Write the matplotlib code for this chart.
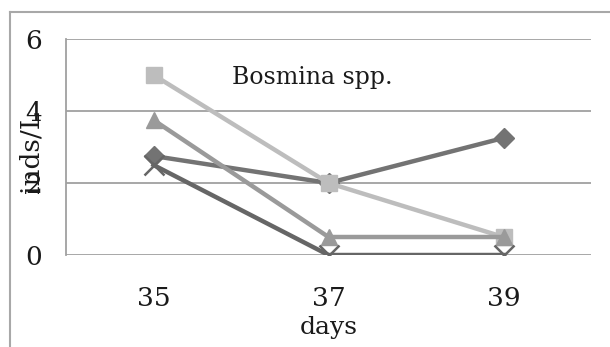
import numpy as np
import matplotlib.pyplot as plt

# Bosmina spp. densities (inds/L) over days
days = ['35', '37', '39']
serie_losange = [2.75, 2.0, 3.25]
serie_carre = [5.0, 2.0, 0.5]
serie_triangle = [3.75, 0.5, 0.5]
serie_croix = [2.5, 0.0, 0.0]
yticks = [0, 2, 4, 6]

W, H = 610, 347
fig = plt.figure(figsize=(W / 100, H / 100), dpi=100)
plt.rcParams['font.family'] = ['DejaVu Serif']

# cadre extérieur (haut et gauche seulement)
fig.add_artist(plt.Line2D([10 / W, 1], [1 - 12 / H, 1 - 12 / H], color='#a8a8a8', lw=1.5))
fig.add_artist(plt.Line2D([10 / W, 10 / W], [0, 1 - 12 / H], color='#a8a8a8', lw=1.5))

ax = fig.add_axes([66 / W, (H - 255) / H, (591 - 66) / W, (255 - 39) / H])
x = np.arange(len(days))

ax.plot(x, serie_losange, color='#737373', lw=3.2, marker='D', ms=10, zorder=3)
ax.plot(x, serie_carre, color='#bdbdbd', lw=3.2, marker='s', ms=12, zorder=3)
ax.plot(x, serie_triangle, color='#9a9a9a', lw=3.2, marker='^', ms=12, zorder=3)
ax.plot(x, serie_croix, color='#666666', lw=3.2, marker='x', ms=14, mew=1.8, zorder=3)

ax.set_xlim(-0.5, 2.5)
ax.set_ylim(0, 6)
ax.set_yticks(yticks)
ax.set_xticks(x, days)
ax.grid(axis='y', color='#a0a0a0', lw=1.3)
ax.set_axisbelow(True)
for s in ['top', 'right', 'bottom']:
    ax.spines[s].set_visible(False)
ax.spines['left'].set_color('#a0a0a0')
ax.spines['left'].set_linewidth(1.3)
ax.tick_params(length=0, labelsize=19, colors='#1a1a1a')
ax.tick_params(axis='y', pad=17)
ax.tick_params(axis='x', pad=22)

ax.set_xlabel('days', fontsize=18, color='#1a1a1a', labelpad=4)
ax.set_ylabel('inds/L', fontsize=19, color='#1a1a1a')
ax.yaxis.set_label_coords(-23 / (591 - 66), 0.48)

ax.text(0.45, 4.94, 'Bosmina spp.', fontsize=17, color='#1a1a1a', va='center')

fig.savefig('out.png', dpi=100)
